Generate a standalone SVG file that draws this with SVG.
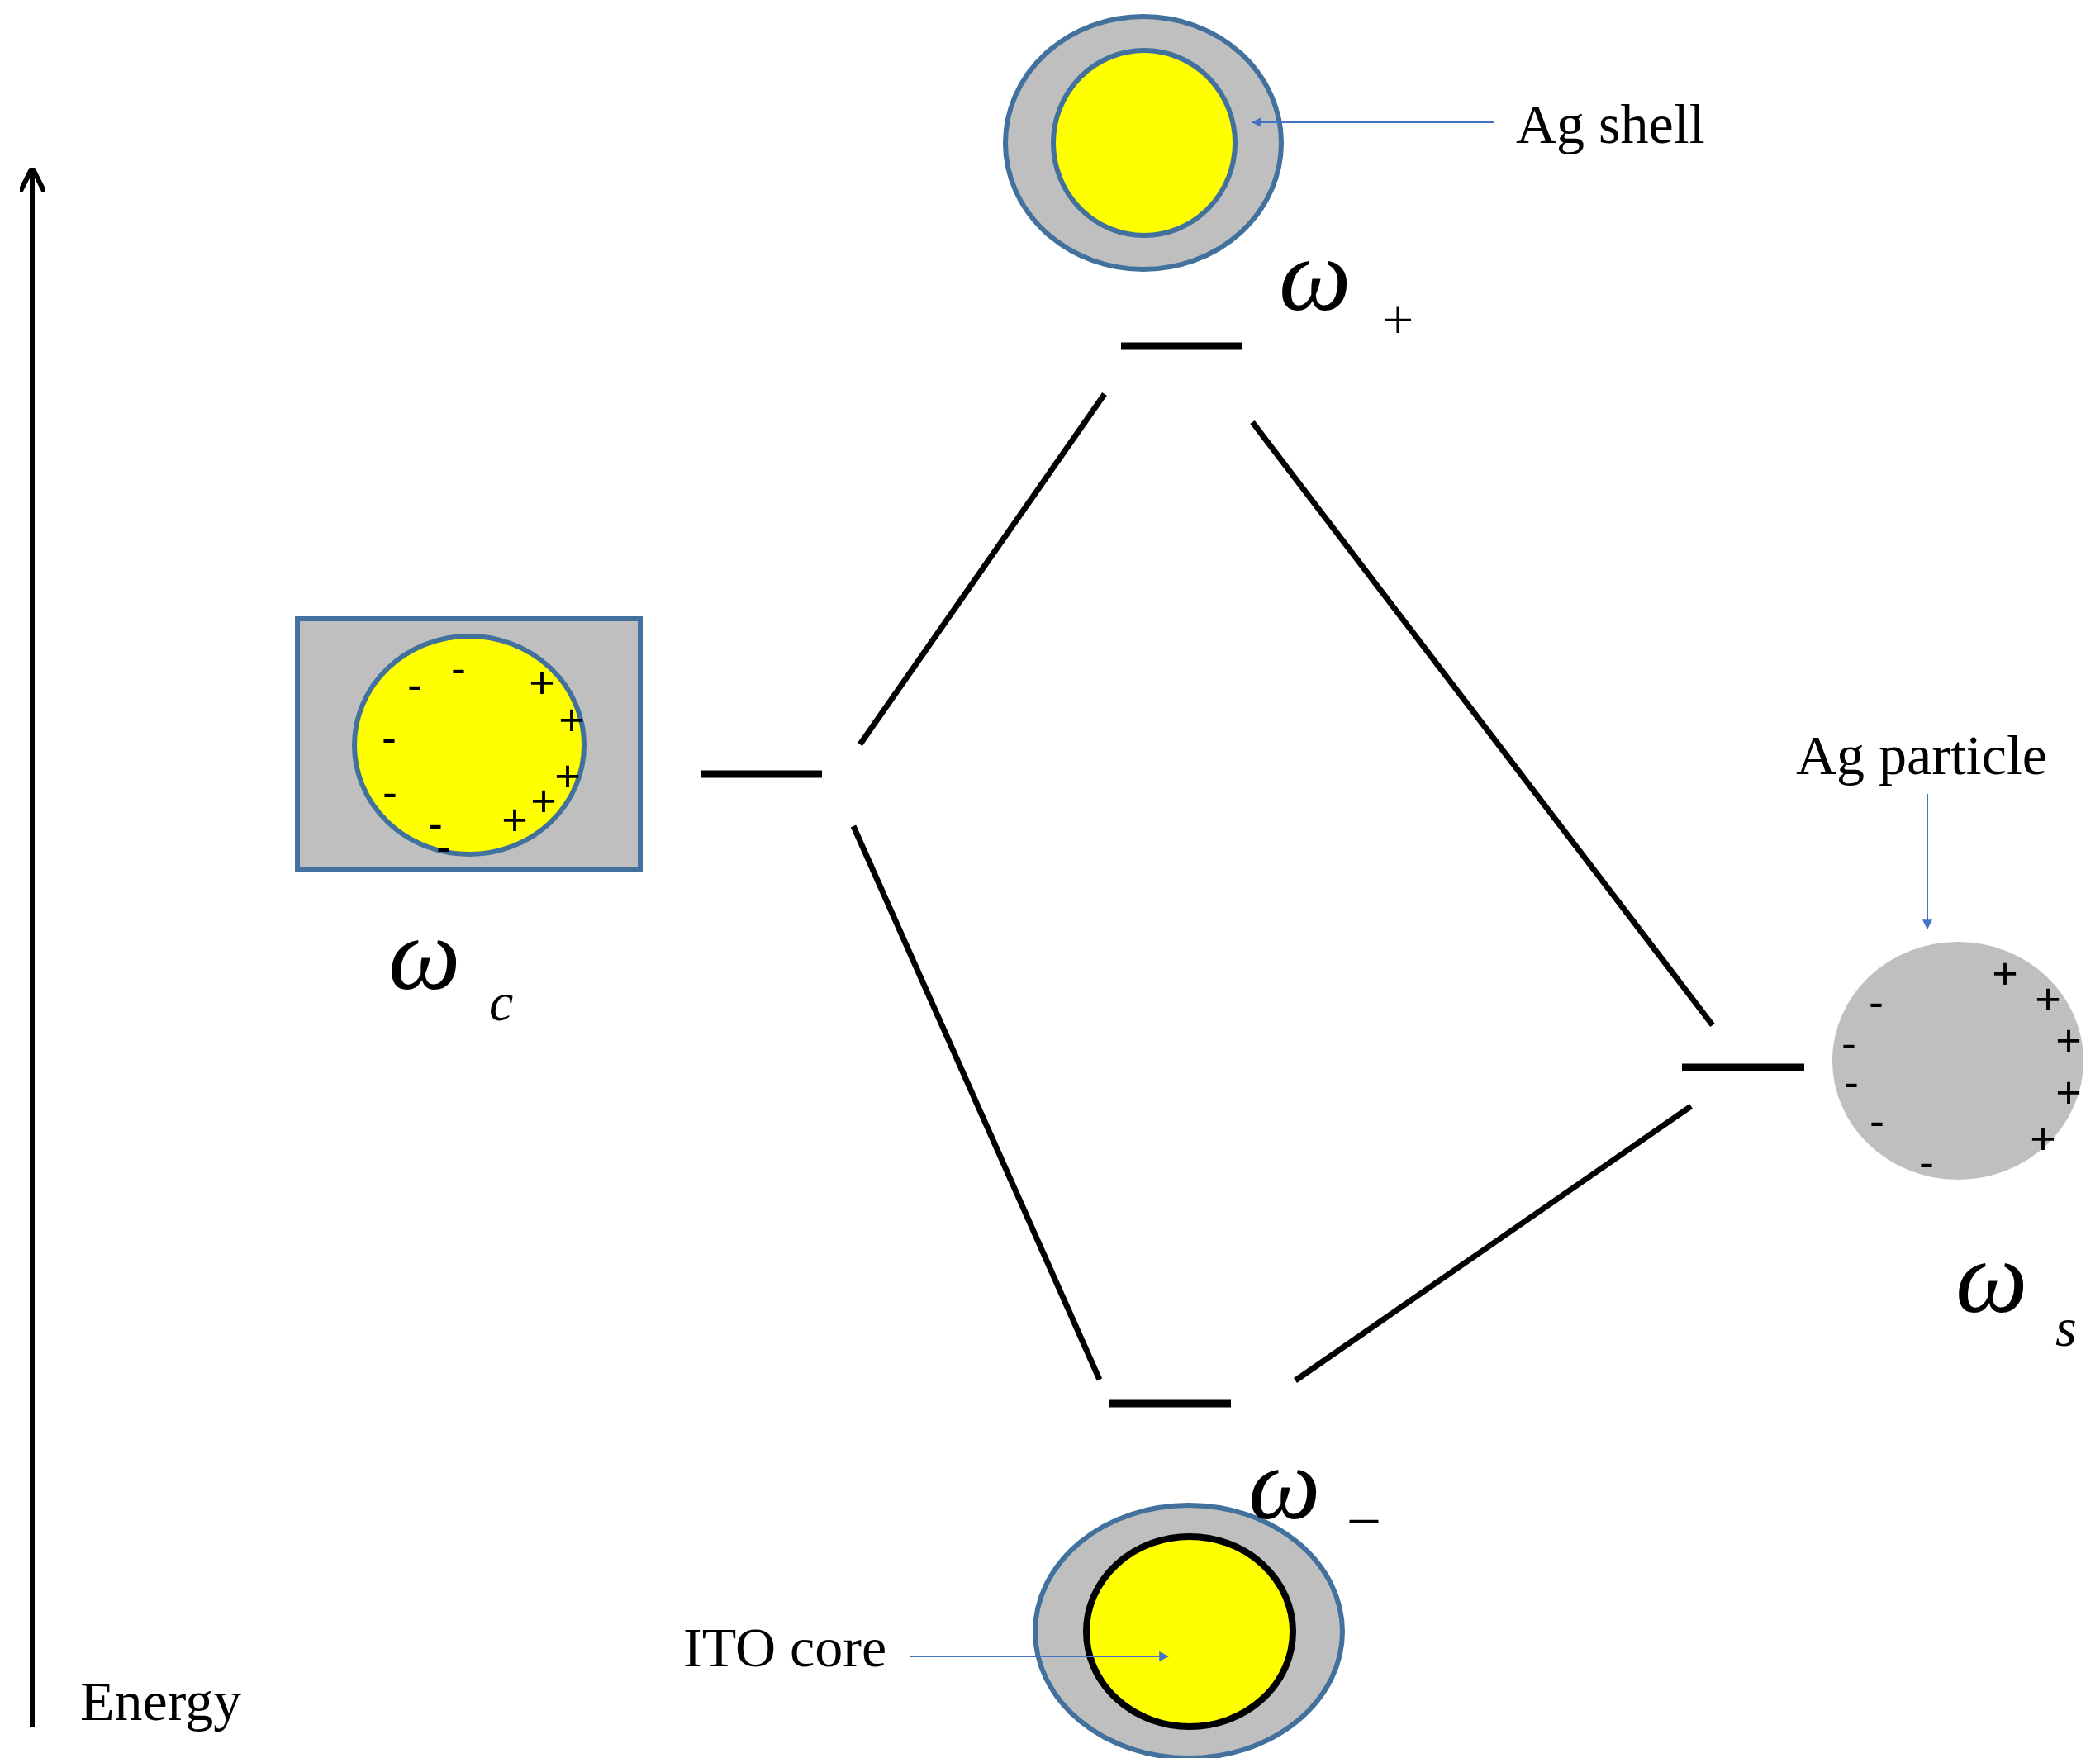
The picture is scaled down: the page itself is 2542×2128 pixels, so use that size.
<svg xmlns="http://www.w3.org/2000/svg" width="2542" height="2128" viewBox="0 0 2542 2128">
<style>
.lvl{stroke:#000;stroke-width:9;fill:none}
.ln{stroke:#000;stroke-width:7;fill:none}
.ptr{stroke:#4472C4;stroke-width:2;fill:none}
.lbl{font-family:"Liberation Serif",serif;font-size:68px;fill:#000}
.om{font-family:"Liberation Serif",serif;font-style:italic;font-size:124px;fill:#000}
.sub{font-family:"Liberation Serif",serif;font-style:italic;font-size:66px;fill:#000}
.ch{font-family:"Liberation Sans",sans-serif;font-size:54px;fill:#000;text-anchor:middle}
</style>
<defs>
<marker id="ah" viewBox="0 0 10 10" refX="9" refY="5" markerWidth="6" markerHeight="6" orient="auto"><path d="M0,0 L10,5 L0,10 z" fill="#4472C4"/></marker>
<marker id="bk" viewBox="0 0 10 10" refX="9" refY="5" markerWidth="5" markerHeight="5" orient="auto"><path d="M0,0 L10,5 L0,10" fill="none" stroke="#000" stroke-width="2"/></marker>
</defs>
<rect width="2542" height="2128" fill="#fff"/>
<g id="energy">
<line x1="39" y1="2090" x2="39" y2="206" stroke="#000" stroke-width="6" marker-end="url(#bk)"/>
<text class="lbl" x="97" y="2082">Energy</text>
</g>
<g id="wplus">
<ellipse cx="1384" cy="173" rx="167" ry="153" fill="#BFBFBF" stroke="#41719C" stroke-width="6"/>
<ellipse cx="1385" cy="173" rx="110" ry="112" fill="#FFFF00" stroke="#41719C" stroke-width="6"/>
<text class="lbl" x="1835" y="173">Ag shell</text>
<line class="lvl" x1="1357" y1="419" x2="1504" y2="419"/>
<text class="om" x="1548" y="375">ω</text>
<text class="lbl" x="1673" y="410">+</text>
</g>
<g id="wc">
<rect x="360" y="749" width="415" height="303" fill="#BFBFBF" stroke="#41719C" stroke-width="6"/>
<ellipse cx="568" cy="902" rx="139" ry="132" fill="#FFFF00" stroke="#41719C" stroke-width="6"/>
<g class="ch">
<text x="555" y="827">-</text><text x="502" y="847">-</text><text x="471" y="911">-</text><text x="472" y="977">-</text><text x="527" y="1015">-</text><text x="537" y="1043">-</text>
<text x="656" y="845">+</text><text x="692" y="890">+</text><text x="687" y="958">+</text><text x="658" y="988">+</text><text x="623" y="1011">+</text>
</g>
<line class="lvl" x1="848" y1="937" x2="995" y2="937"/>
<text class="om" x="470" y="1197">ω</text>
<text class="sub" x="592" y="1235">c</text>
</g>
<g id="ws">
<ellipse cx="2370" cy="1284" rx="152" ry="144" fill="#BFBFBF"/>
<g class="ch">
<text x="2271" y="1231">-</text><text x="2238" y="1281">-</text><text x="2241" y="1328">-</text><text x="2272" y="1375">-</text><text x="2332" y="1425">-</text>
<text x="2427" y="1197">+</text><text x="2479" y="1228">+</text><text x="2504" y="1278">+</text><text x="2504" y="1341">+</text><text x="2473" y="1397">+</text>
</g>
<line class="lvl" x1="2036" y1="1292" x2="2184" y2="1292"/>
<text class="lbl" x="2174" y="937">Ag particle</text>
<text class="om" x="2367" y="1588">ω</text>
<text class="sub" x="2488" y="1629">s</text>
</g>
<g id="wminus">
<ellipse cx="1439" cy="1975" rx="186" ry="153" fill="#BFBFBF" stroke="#41719C" stroke-width="6"/>
<ellipse cx="1440" cy="1975" rx="125" ry="115" fill="#FFFF00" stroke="#000" stroke-width="8"/>
<line class="lvl" x1="1342" y1="1699" x2="1490" y2="1699"/>
<text class="om" x="1511" y="1838">ω</text>
<text class="lbl" x="1634" y="1857">–</text>
<text class="lbl" x="827" y="2017">ITO core</text>
</g>
<g id="connectors">
<line class="ln" x1="1337" y1="477" x2="1041" y2="901"/>
<line class="ln" x1="1516" y1="511" x2="2073" y2="1241"/>
<line class="ln" x1="1033" y1="1000" x2="1331" y2="1670"/>
<line class="ln" x1="2047" y1="1339" x2="1568" y2="1671"/>
<line class="ptr" x1="1808" y1="148" x2="1516" y2="148" marker-end="url(#ah)"/>
<line class="ptr" x1="2333" y1="961" x2="2333" y2="1124" marker-end="url(#ah)"/>
<line class="ptr" x1="1102" y1="2005" x2="1414" y2="2005" marker-end="url(#ah)"/>
</g>
</svg>
